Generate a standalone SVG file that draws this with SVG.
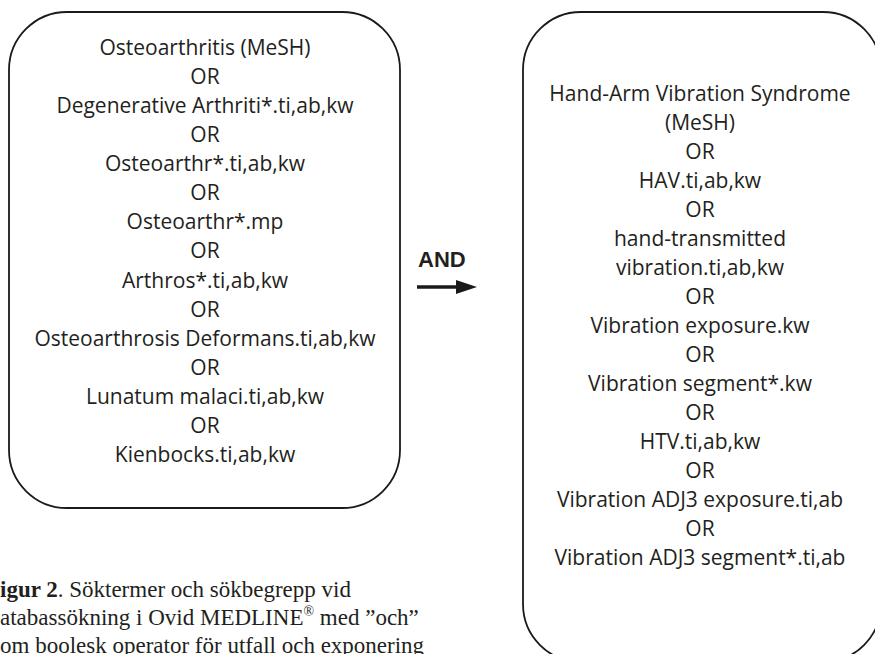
<svg xmlns="http://www.w3.org/2000/svg" width="875" height="654" viewBox="0 0 875 654">
<style>
.box{fill:#fff;stroke:#1a1a1a;stroke-width:1.8}
.t{font-family:"Open Sans","Liberation Sans",sans-serif;font-size:21px;fill:#231f20;text-anchor:middle}
.and{font-family:"Liberation Sans",Arial,sans-serif;font-size:22px;font-weight:bold;fill:#231f20}
.cap{font-family:"Liberation Serif","Times New Roman",serif;font-size:23px;fill:#231f20}
</style>
<defs>
<marker id="ah" markerWidth="6" markerHeight="4" refX="0" refY="2" orient="auto" markerUnits="strokeWidth">
<path d="M0,0 L6,2 L0,4 Z" fill="#1a1a1a"/>
</marker>
</defs>
<rect width="875" height="654" fill="#fff"/>
<g id="outcome">
<rect class="box" x="9" y="12" width="391" height="496" rx="58" ry="58"/>
<text class="t" x="205" y="55">Osteoarthritis (MeSH)</text>
<text class="t" x="205" y="84">OR</text>
<text class="t" x="205" y="113">Degenerative Arthriti*.ti,ab,kw</text>
<text class="t" x="205" y="142">OR</text>
<text class="t" x="205" y="171">Osteoarthr*.ti,ab,kw</text>
<text class="t" x="205" y="200">OR</text>
<text class="t" x="205" y="229">Osteoarthr*.mp</text>
<text class="t" x="205" y="258">OR</text>
<text class="t" x="205" y="288">Arthros*.ti,ab,kw</text>
<text class="t" x="205" y="317">OR</text>
<text class="t" x="205" y="346">Osteoarthrosis Deformans.ti,ab,kw</text>
<text class="t" x="205" y="375">OR</text>
<text class="t" x="205" y="404">Lunatum malaci.ti,ab,kw</text>
<text class="t" x="205" y="433">OR</text>
<text class="t" x="205" y="462">Kienbocks.ti,ab,kw</text>
</g>
<g id="exposure">
<rect class="box" x="523" y="12" width="358" height="650" rx="58" ry="58"/>
<text class="t" x="700" y="101">Hand-Arm Vibration Syndrome</text>
<text class="t" x="700" y="130">(MeSH)</text>
<text class="t" x="700" y="159">OR</text>
<text class="t" x="700" y="188">HAV.ti,ab,kw</text>
<text class="t" x="700" y="217">OR</text>
<text class="t" x="700" y="246">hand-transmitted</text>
<text class="t" x="700" y="275">vibration.ti,ab,kw</text>
<text class="t" x="700" y="304">OR</text>
<text class="t" x="700" y="333">Vibration exposure.kw</text>
<text class="t" x="700" y="362">OR</text>
<text class="t" x="700" y="391">Vibration segment*.kw</text>
<text class="t" x="700" y="420">OR</text>
<text class="t" x="700" y="449">HTV.ti,ab,kw</text>
<text class="t" x="700" y="478">OR</text>
<text class="t" x="700" y="507">Vibration ADJ3 exposure.ti,ab</text>
<text class="t" x="700" y="536">OR</text>
<text class="t" x="700" y="565">Vibration ADJ3 segment*.ti,ab</text>
</g>
<g id="connectors">
<line x1="417" y1="287" x2="456" y2="287" stroke="#1a1a1a" stroke-width="3.5" marker-end="url(#ah)"/>
<text class="and" x="418" y="267">AND</text>
</g>
<g id="caption">
<text class="cap" x="0" y="597"><tspan font-weight="bold">igur 2</tspan>. Söktermer och sökbegrepp vid</text>
<text class="cap" x="0" y="625">atabassökning i Ovid MEDLINE<tspan font-size="14" dy="-9">®</tspan><tspan dy="9"> med ”och”</tspan></text>
<text class="cap" x="0" y="653">om boolesk operator för utfall och exponering</text>
</g>
</svg>
